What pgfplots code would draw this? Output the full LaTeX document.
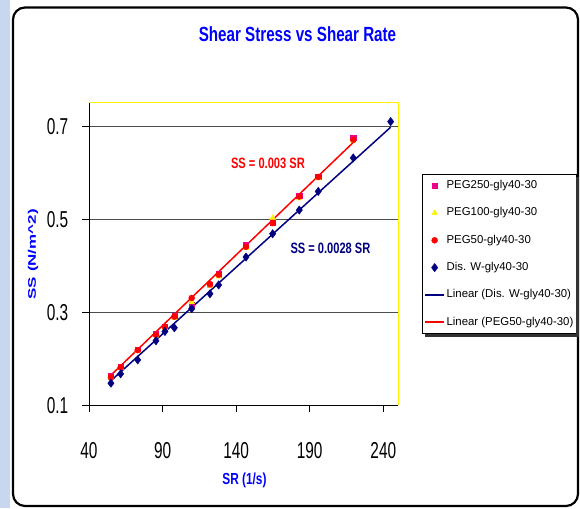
\documentclass[border=0pt]{standalone}
\usepackage{fontspec}
\setmainfont{Liberation Sans}
\newfontfamily\tickfont{Liberation Sans}[FakeStretch=0.67]
\newfontfamily\narrowfont{Liberation Sans}[FakeStretch=0.74]
\usepackage{graphicx}
\usepackage{pgfplots}
\pgfplotsset{compat=1.18}
\definecolor{navy}{RGB}{0,0,128}
\definecolor{leftblue}{RGB}{200,214,240}

\begin{document}
\begin{tikzpicture}[x=1pt,y=1pt]
\useasboundingbox (0,0) rectangle (580,508);
\fill[white] (0,0) rectangle (580,508);
\fill[leftblue] (0,0) rectangle (10,508);
\draw[black, line width=2.2pt, rounded corners=12pt] (13,2) rectangle (578,500.5);
\begin{axis}[
  at={(89pt,102.5pt)}, anchor=south west,
  scale only axis, width=309pt, height=302.5pt,
  xmin=40, xmax=250, ymin=0.1, ymax=0.75,
  clip=false,
  axis x line*=bottom, axis y line*=left,
  axis line style={-, black, line width=1pt},
  xtick={40,90,140,190,240},
  ytick={0.1,0.3,0.5,0.7},
  tick align=outside, major tick length=7pt,
  tick style={black, line width=0.8pt},
  ymajorgrids, grid style={black!70, line width=1.2pt},
  /pgf/number format/assume math mode=true,
  ticklabel style={font=\tickfont\fontsize{23}{23}\selectfont},
  yticklabel style={/pgf/number format/fixed, /pgf/number format/precision=1, anchor=center, xshift=-24.5pt},
  xticklabel style={anchor=center, yshift=-37.8pt},
  title={Shear Stress vs Shear Rate},
  title style={at={(axis description cs:0.6748,1.2083)}, anchor=center, font=\narrowfont\bfseries\fontsize{20.5}{20.5}\selectfont, text=blue},
  xlabel={SR (1/s)},
  xlabel style={at={(axis description cs:0.503,-0.248)}, anchor=center, font=\narrowfont\bfseries\fontsize{16}{16}\selectfont, text=blue},
  ylabel={\scalebox{1}[0.65]{SS (N/m\textasciicircum 2)}},
  ylabel style={at={(axis description cs:-0.1812,0.5)}, anchor=center, font=\bfseries\fontsize{17}{17}\selectfont, text=blue},
  legend image code/.code={\draw[mark repeat=2,mark phase=2,#1] plot coordinates {(0pt,0pt) (9.5pt,0pt) (19pt,0pt)};},
  legend cell align=left,
  legend style={name=mylegend, at={(axis description cs:1.0767,0.7653)}, anchor=north west,
    draw=black, fill=white, font=\fontsize{11.4}{13}\selectfont,
    inner xsep=2.5pt, inner ysep=6pt, row sep=16.3pt, column sep=1.7pt,
    nodes={inner sep=0pt, text height=8.5pt, text depth=2.5pt}},
]
\addplot[only marks, mark=square*, mark size=2.6pt, color=magenta] table {
x y
54.9 0.163
61.5 0.183
73.1 0.220
85.5 0.255
91.6 0.270
98.0 0.292
109.8 0.316
122.2 0.360
128.1 0.382
146.7 0.445
164.8 0.493
182.9 0.550
195.8 0.592
219.6 0.676
};
\addlegendentry{PEG250-gly40-30}
\addplot[only marks, mark=triangle*, mark size=3.2pt, color=yellow] table {
x y
54.9 0.160
61.5 0.181
73.1 0.217
85.5 0.250
91.6 0.267
98.0 0.288
109.8 0.322
122.2 0.357
128.1 0.377
146.7 0.438
164.8 0.503
182.9 0.545
195.8 0.588
219.6 0.668
};
\addlegendentry{PEG100-gly40-30}
\addplot[only marks, mark=*, mark size=3pt, color=red] table {
x y
54.9 0.161
61.5 0.182
73.1 0.219
85.5 0.252
91.6 0.269
98.0 0.291
109.8 0.331
122.2 0.361
128.1 0.381
146.7 0.441
164.8 0.492
182.9 0.549
195.8 0.591
219.6 0.671
};
\addlegendentry{PEG50-gly40-30}
\addplot[only marks, mark=diamond*, mark size=4.2pt, color=navy] table {
x y
54.9 0.148
61.5 0.168
73.1 0.198
85.5 0.239
91.6 0.259
98.0 0.267
109.8 0.308
122.2 0.340
128.1 0.359
146.7 0.419
164.8 0.469
182.9 0.520
195.8 0.560
219.6 0.632
245.0 0.710
};
\addlegendentry{Dis. W-gly40-30}
\addplot[navy, line width=1.5pt, no marks] coordinates {(54.5,0.152) (245,0.698)};
\addlegendentry{Linear (Dis. W-gly40-30)}
\addplot[red, line width=1.5pt, no marks] coordinates {(54.5,0.164) (219.5,0.665)};
\addlegendentry{Linear (PEG50-gly40-30)}
\node[font=\narrowfont\bfseries\fontsize{15}{15}\selectfont, text=red] at (axis cs:161.6,0.620) {SS = 0.003 SR};
\node[font=\narrowfont\bfseries\fontsize{15}{15}\selectfont, text=navy] at (axis cs:204.1,0.4376) {SS = 0.0028 SR};
\draw[yellow, line width=1pt] (rel axis cs:0,1) -- (rel axis cs:1,1) -- (rel axis cs:1,0);
\end{axis}
\fill[black!80] ([yshift=-3pt]mylegend.north east) rectangle ([xshift=3pt,yshift=-3pt]mylegend.south east);
\fill[black!80] ([xshift=3pt]mylegend.south west) rectangle ([xshift=3pt,yshift=-3pt]mylegend.south east);
\end{tikzpicture}
\end{document}
